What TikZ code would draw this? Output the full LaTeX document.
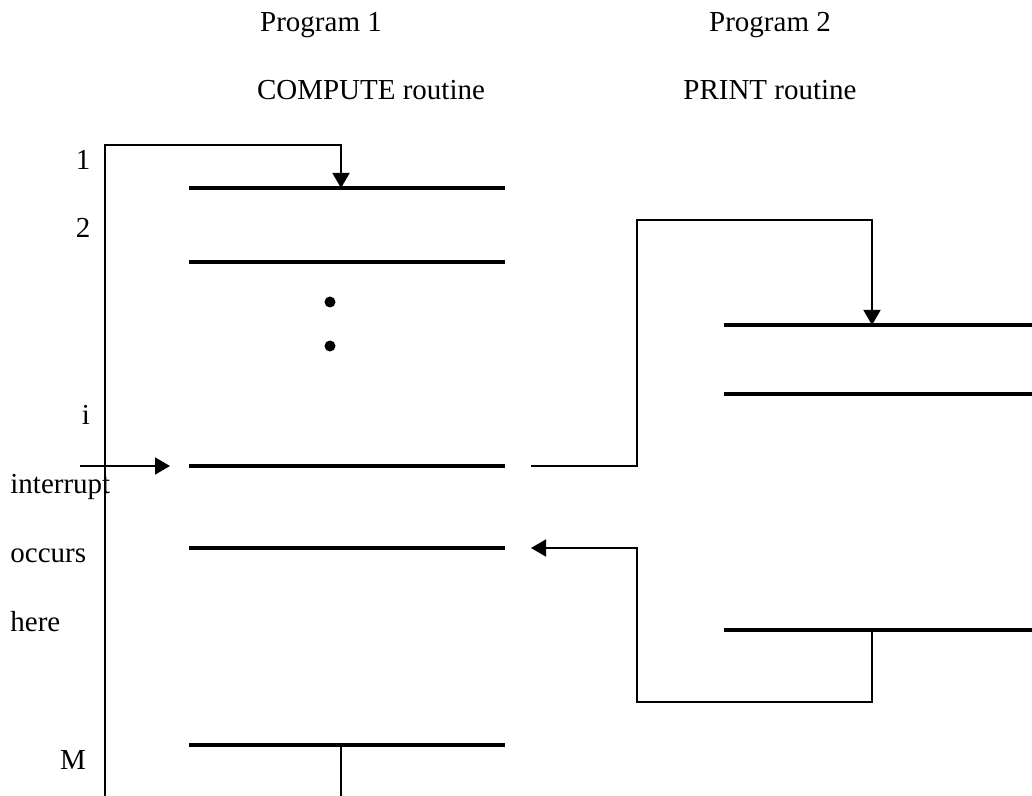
\documentclass[tikz,border=0pt]{standalone}
\usepackage{fontspec}
\setmainfont{Liberation Serif}
\usetikzlibrary{arrows.meta}

\begin{document}
\begin{tikzpicture}[
  x=0.5pt,y=-0.5pt,
  >={Triangle[length=7.5pt,width=8.5pt]},
  bar/.style={line width=2pt},
  link/.style={line width=0.8pt},
  lbl/.style={anchor=base,inner sep=0pt,font=\fontsize{14.5}{17}\selectfont},
  side/.style={lbl,anchor=base west}
]
\useasboundingbox (0,0) rectangle (1032,796);
% headings
\node[lbl] (prog1) at (321,32) {Program 1};
\node[lbl] (prog2) at (770,32) {Program 2};
\node[lbl] (compute) at (371,100) {COMPUTE routine};
\node[lbl] (print) at (770,100) {PRINT routine};
% line numbers and side text
\node[lbl] (n1) at (83,170) {1};
\node[lbl] (n2) at (83,238) {2};
\node[lbl] (ni) at (86,424) {i};
\node[lbl] (nM) at (73,769) {M};
\node[side] (intr) at (10,493) {interrupt};
\node[side] (occ) at (10,562) {occurs};
\node[side] (here) at (10,631) {here};
% program 1 instructions
\foreach \n/\y in {a/188,b/262,i/466,j/548,m/745}{
  \coordinate (p\n l) at (189,\y);
  \coordinate (p\n r) at (505,\y);
  \draw[bar] (p\n l) -- (p\n r);
}
\fill (330,302) circle (5.5);
\fill (330,346) circle (5.5);
% program 2 instructions
\foreach \n/\y in {a/325,b/394,z/630}{
  \coordinate (q\n l) at (724,\y);
  \coordinate (q\n r) at (1032,\y);
  \draw[bar] (q\n l) -- (q\n r);
}
% flow of control
\coordinate (start) at (105,796);
\coordinate (enter1) at (341,188);
\coordinate (pmout) at (341,796);
\coordinate (irqin) at (80,466);
\coordinate (irqtip) at (170,466);
\coordinate (jump) at (531,466);
\coordinate (enter2) at (872,325);
\coordinate (ret) at (872,630);
\coordinate (back) at (531,548);
\draw[link,->] (start) |- (105,145) -| (enter1);
\draw[link,->] (irqin) -- (irqtip);
\draw[link,->] (jump) -| (637,220) -| (enter2);
\draw[link,->] (ret) |- (637,702) |- (back);
\draw[link] (341,745) -- (pmout);
\end{tikzpicture}
\end{document}
